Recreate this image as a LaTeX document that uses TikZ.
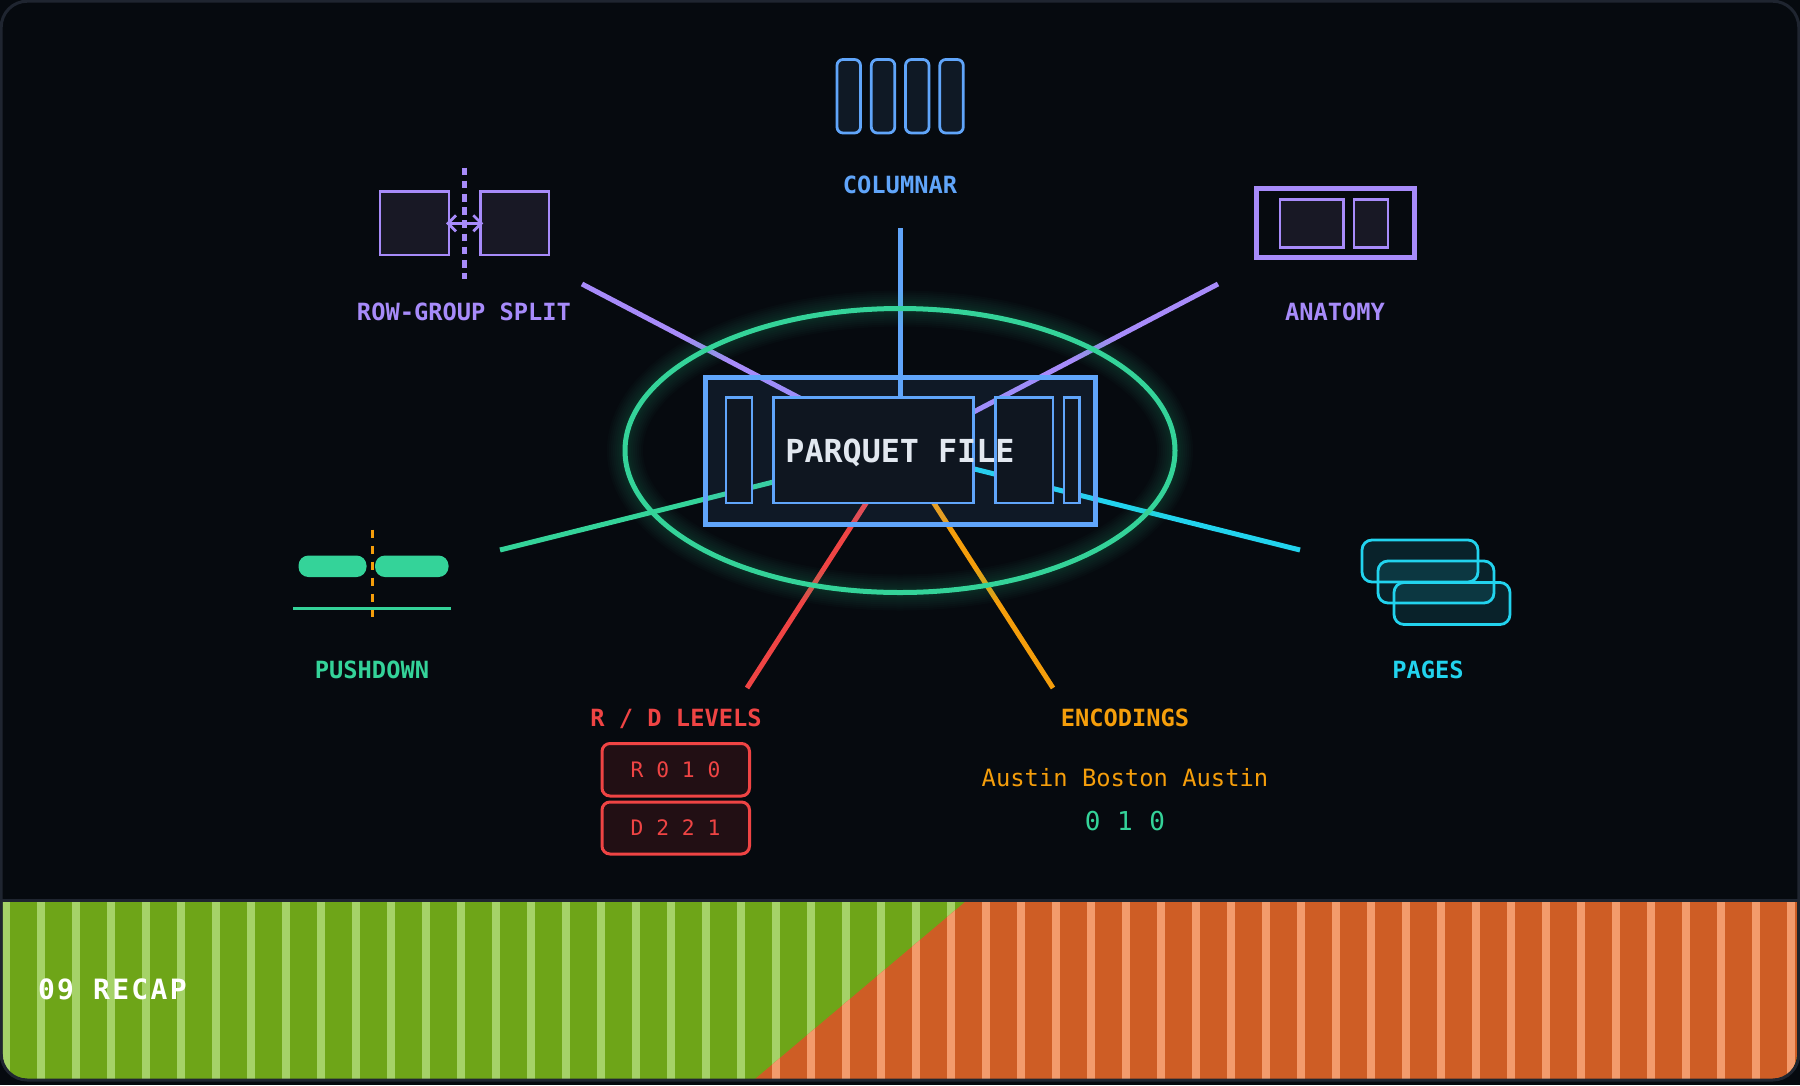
\documentclass[tikz,border=0pt]{standalone}
\usepackage{fontspec}
\usepackage{xcolor}
\usetikzlibrary{arrows.meta}
\newfontfamily\recapfont[LetterSpace=8.2]{DejaVu Sans Mono}
\newfontfamily\codesfont[LetterSpace=3.8]{DejaVu Sans Mono}
\newfontfamily\plainfont{DejaVu Sans Mono}
\definecolor{bgdark}{HTML}{060A0F}
\definecolor{framegray}{HTML}{1F2530}
\definecolor{fileblue}{HTML}{60A5FA}
\definecolor{splitpurple}{HTML}{A78BFA}
\definecolor{pushgreen}{HTML}{34D399}
\definecolor{levelred}{HTML}{EF4444}
\definecolor{encorange}{HTML}{F59E0B}
\definecolor{pagecyan}{HTML}{22D3EE}
\definecolor{titlegray}{HTML}{E2E8F0}
\definecolor{blockfill}{HTML}{0F1620}
\definecolor{columnfill}{HTML}{0F1925}
\definecolor{purplefill}{HTML}{181825}
\definecolor{redfill}{HTML}{220F14}
\definecolor{bandgreen}{HTML}{6EA518}
\definecolor{stripegreen}{HTML}{A5D268}
\definecolor{bandorange}{HTML}{CE5D25}
\definecolor{stripeorange}{HTML}{F39B6C}
\tikzset{
	spoke/.style={line width=5pt},
	block/.style={draw=fileblue,line width=2.8pt,fill=blockfill},
	caps/.style={anchor=base,font=\plainfont\bfseries\fontsize{23.7}{28}\selectfont},
	levelbox/.style={draw=levelred,line width=3pt,fill=redfill,rounded corners=8pt},
	leveltext/.style={anchor=base,text=levelred,font=\plainfont\fontsize{21.3}{26}\selectfont},
	pagebox/.style={draw=pagecyan,line width=2.8pt,fill=pagecyan,fill opacity=.12,rounded corners=10pt},
	columnbox/.style={draw=fileblue,line width=2.8pt,fill=columnfill,rounded corners=6pt},
	purplebox/.style={draw=splitpurple,line width=2.8pt,fill=purplefill}
}
\begin{document}
\begin{tikzpicture}[line cap=butt,line join=miter,x=1pt,y=-1pt]
	\useasboundingbox (0,0) rectangle (1800,1085);
	\fill[color=bgdark] (0,0) rectangle (1800,1085);
	\begin{scope}
		\clip[rounded corners=25pt] (2.5,2.5) rectangle (1797,1079);
		\fill[color=bandgreen] (0,902) rectangle (1800,1079);
		\foreach \k in {0,...,51}
			\fill[color=stripegreen] ({2+35*\k},902) rectangle ({10+35*\k},1079);
		\clip (965,902) -- (1800,902) -- (1800,1079) -- (755,1079) -- cycle;
		\fill[color=bandorange] (0,902) rectangle (1800,1079);
		\foreach \k in {0,...,51}
			\fill[color=stripeorange] ({2+35*\k},902) rectangle ({10+35*\k},1079);
	\end{scope}
	\draw[color=framegray,line width=3pt] (0,900.5) -- (1800,900.5);
	\draw[color=framegray,line width=3pt,rounded corners=26pt] (1.2,1.2) rectangle (1798.8,1080);
	\node[anchor=base west,text=white,font=\recapfont\bfseries\fontsize{28}{32}\selectfont] (recap) at (34.5,999) {09 RECAP};

	\coordinate (hub) at (900,450.5);
	\coordinate (endcolumnar) at (900,228);
	\coordinate (endsplit) at (582,284);
	\coordinate (endanatomy) at (1218,284);
	\coordinate (endpushdown) at (500,550);
	\coordinate (endpages) at (1300,550);
	\coordinate (endlevels) at (747,688);
	\coordinate (endencodings) at (1053,688);
	\draw[spoke,color=fileblue] (hub) -- (endcolumnar);
	\draw[spoke,color=splitpurple] (hub) -- (endsplit);
	\draw[spoke,color=splitpurple] (hub) -- (endanatomy);
	\draw[spoke,color=pushgreen] (hub) -- (endpushdown);
	\draw[spoke,color=pagecyan] (hub) -- (endpages);
	\draw[spoke,color=levelred] (hub) -- (endlevels);
	\draw[spoke,color=encorange] (hub) -- (endencodings);

	\foreach \w in {36,32,28,24,20,16,12,9}
		\draw[color=pushgreen,line width=\w pt,opacity=.025] (hub) ellipse (275 and 142);
	\draw[color=pushgreen,line width=5pt] (hub) ellipse (275 and 142);

	\node[draw=fileblue,line width=5pt,fill=fileblue,fill opacity=.1,draw opacity=1,minimum width=390pt,minimum height=147pt,inner sep=0pt,outer sep=0pt] (file) at (hub) {};
	\draw[block] (726,397.5) rectangle (752,503);
	\draw[block] (773.5,397.5) rectangle (973.5,503);
	\draw[block] (995.8,397.5) rectangle (1053,503);
	\draw[block] (1064,397.5) rectangle (1079.5,503);
	\node[text=titlegray,font=\plainfont\bfseries\fontsize{31.7}{36}\selectfont] (filetitle) at (900,452.5) {PARQUET FILE};

	\draw[columnbox] (837,59.5) rectangle (860.5,133);
	\draw[columnbox] (871.3,59.5) rectangle (894.8,133);
	\draw[columnbox] (905.5,59.5) rectangle (929,133);
	\draw[columnbox] (939.8,59.5) rectangle (963.3,133);
	\node[caps,text=fileblue] (columnar) at (900,193.5) {COLUMNAR};

	\draw[purplebox] (380,191.5) rectangle (449,255);
	\draw[purplebox] (480.5,191.5) rectangle (549,255);
	\draw[color=splitpurple,line width=2.8pt,{Straight Barb[length=8pt,width=16pt]}-{Straight Barb[length=8pt,width=16pt]}] (446,223.3) -- (483.3,223.3);
	\draw[color=splitpurple,line width=5.5pt,dash pattern=on 7.7pt off 5.5pt] (464.3,167.5) -- (464.3,278.5);
	\node[caps,text=splitpurple] (split) at (464,320) {ROW-GROUP SPLIT};

	\draw[color=splitpurple,line width=5pt,fill=bgdark] (1256,188.5) rectangle (1414.5,257.5);
	\draw[purplebox] (1280,199.5) rectangle (1343.5,247.5);
	\draw[purplebox] (1354,199.5) rectangle (1388,247.5);
	\node[caps,text=splitpurple] (anatomy) at (1335,320) {ANATOMY};

	\draw[color=encorange,line width=3pt,dash pattern=on 8pt off 8pt] (372,529.5) -- (372,617);
	\fill[color=pushgreen,rounded corners=10pt] (298.5,555.5) rectangle (366.5,577);
	\fill[color=pushgreen,rounded corners=10pt] (375,555.5) rectangle (448.5,577);
	\draw[color=pushgreen,line width=3pt] (293,608.3) -- (451,608.3);
	\node[caps,text=pushgreen] (pushdown) at (372,678.5) {PUSHDOWN};

	\draw[pagebox] (1362,540) rectangle (1478,582);
	\draw[pagebox] (1378,561) rectangle (1494,603);
	\draw[pagebox] (1394,582.5) rectangle (1510,624.5);
	\node[caps,text=pagecyan] (pages) at (1428,678) {PAGES};

	\node[caps,text=levelred] (levels) at (676,726.5) {R / D LEVELS};
	\draw[levelbox] (602,743.5) rectangle (749.5,796);
	\draw[levelbox] (602,802) rectangle (749.5,854);
	\node[leveltext] (rlevels) at (675.5,777.5) {R 0 1 0};
	\node[leveltext] (dlevels) at (675.5,835.5) {D 2 2 1};

	\node[caps,text=encorange] (encodings) at (1125,726.5) {ENCODINGS};
	\node[anchor=base,font=\plainfont\fontsize{23.8}{28}\selectfont,text=encorange] (dictwords) at (1125,786) {Austin Boston Austin};
	\node[anchor=base,text=pushgreen,font=\codesfont\fontsize{26}{30}\selectfont] (dictcodes) at (1125,830) {0 1 0};
\end{tikzpicture}
\end{document}
